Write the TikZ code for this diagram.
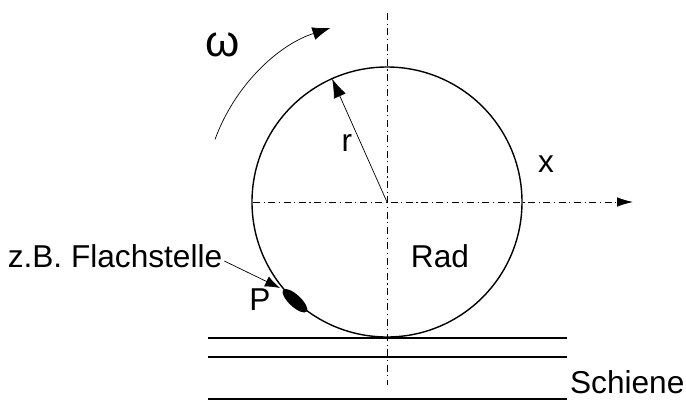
\documentclass[tikz,border=0pt]{standalone}
\usepackage{fontspec}
\setmainfont{Liberation Sans}
\usetikzlibrary{arrows.meta,shapes,positioning,calc}

\begin{document}
\begin{tikzpicture}[x=0.02cm,y=0.02cm,
    axis/.style={line width=0.5pt,dash pattern=on 4pt off 2pt on 0.7pt off 2pt},
    lbl/.style={inner sep=1pt,font=\fontsize{18}{20}\selectfont}]
                        \useasboundingbox (-387,202) rectangle (299,-205);
                        \draw[line width=0.8pt] (0,0) circle (135);
                        \draw[axis] (0,189) -- (0,-183);
                        \draw[axis,-{Latex[length=0.32cm,width=0.19cm]}] (-134,0) -- (246,0);
                        \foreach \y in {-136,-155,-197} {
                            \draw[line width=0.8pt] (-179,\y) -- (180,\y);
                        }
                        \draw[line width=0.4pt,-{Latex[length=0.38cm,width=0.26cm]}] (0,0) -- (114:135);
                        \draw[line width=0.4pt,-{Latex[length=0.36cm,width=0.26cm]}] (160:183) arc (160:108:183);
                        \fill[rotate around={137:(227:135)}] (227:135) ellipse (16 and 6);
                        \node[lbl] (rr) at (-40,59) {r};
                        \node[lbl] (xx) at (159,38) {x};
                        \node[lbl] (om) at (-164,157) {\fontsize{25}{28}\selectfont ω};
                        \node[lbl] (rad) at (53,-54) {Rad};
                        \node[lbl] (pp) at (-127,-98) {P};
                        \node[lbl] (flach) at (-272,-54) {z.B. Flachstelle};
                        \node[lbl,anchor=west] (schiene) at (181,-180) {Schiene};
                        \coordinate (fstip) at (-107,-86);
                        \draw[line width=0.4pt,-{Latex[length=0.3cm,width=0.22cm]}] ([yshift=-0.1cm]flach.east) -- (fstip);
                    \end{tikzpicture}
\end{document}
